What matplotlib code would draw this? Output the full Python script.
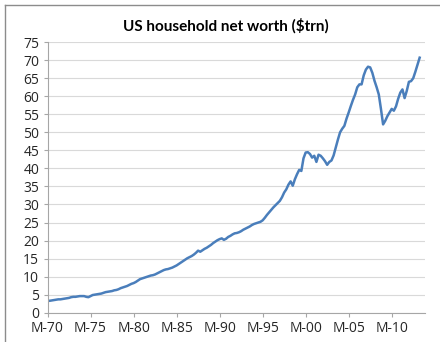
import matplotlib
matplotlib.use("Agg")
import matplotlib.pyplot as plt
from matplotlib.lines import Line2D

# quarterly US household net worth, $trn, Mar-70 .. Jun-13
net_worth = [
    3.3, 3.3, 3.4, 3.5,      # 1970
    3.6, 3.7, 3.7, 3.8,      # 1971
    3.9, 4.0, 4.1, 4.3,      # 1972
    4.4, 4.4, 4.5, 4.6,      # 1973
    4.6, 4.6, 4.4, 4.3,      # 1974
    4.6, 4.9, 5.0, 5.1,      # 1975
    5.2, 5.3, 5.5, 5.7,      # 1976
    5.8, 5.9, 6.0, 6.2,      # 1977
    6.3, 6.5, 6.8, 7.0,      # 1978
    7.2, 7.4, 7.7, 8.0,      # 1979
    8.2, 8.5, 8.9, 9.3,      # 1980
    9.5, 9.7, 9.9, 10.1,     # 1981
    10.3, 10.4, 10.6, 10.9,  # 1982
    11.2, 11.5, 11.8, 12.0,  # 1983
    12.1, 12.3, 12.5, 12.8,  # 1984
    13.1, 13.5, 13.9, 14.3,  # 1985
    14.7, 15.1, 15.4, 15.7,  # 1986
    16.1, 16.6, 17.2, 16.9,  # 1987
    17.3, 17.7, 18.0, 18.4,  # 1988
    18.8, 19.3, 19.7, 20.1,  # 1989
    20.4, 20.6, 20.2, 20.5,  # 1990
    21.0, 21.3, 21.7, 22.0,  # 1991
    22.1, 22.3, 22.6, 23.0,  # 1992
    23.3, 23.6, 23.9, 24.3,  # 1993
    24.6, 24.8, 25.0, 25.2,  # 1994
    25.6, 26.3, 27.1, 27.8,  # 1995
    28.5, 29.2, 29.8, 30.4,  # 1996
    31.0, 32.0, 33.3, 34.2,  # 1997
    35.5, 36.4, 35.2, 37.0,  # 1998
    38.4, 39.6, 39.3, 42.8,  # 1999
    44.4, 44.5, 44.0, 43.0,  # 2000
    43.5, 41.8, 43.8, 43.5,  # 2001
    42.8, 42.0, 41.0, 41.8,  # 2002
    42.2, 43.6, 45.8, 48.0,  # 2003
    50.0, 51.0, 51.8, 53.8,  # 2004
    55.5, 57.3, 59.0, 60.5,  # 2005
    62.5, 63.3, 63.3, 65.8,  # 2006
    67.4, 68.2, 68.0, 66.5,  # 2007
    64.3, 62.5, 60.5, 56.5,  # 2008
    52.2, 53.2, 54.5, 55.5,  # 2009
    56.5, 56.0, 57.2, 59.3,  # 2010
    61.0, 61.9, 59.5, 61.5,  # 2011
    64.0, 64.2, 65.0, 66.8,  # 2012
    68.7, 70.7,              # 2013
]
tick_labels = ["M-70", "M-75", "M-80", "M-85", "M-90", "M-95", "M-00", "M-05", "M-10"]
y_ticks = list(range(0, 80, 5))

fig = plt.figure(figsize=(4.4, 3.42), dpi=100)
ax = fig.add_axes([0.108, 0.0857, 0.858, 0.791])

ax.plot(range(len(net_worth)), net_worth, color="#4a7ebb", lw=1.8, solid_joinstyle="round")

ax.set_xlim(0, 175.5)
ax.set_ylim(0, 75)
ax.set_yticks(y_ticks)
ax.set_xticks([i * 20 for i in range(len(tick_labels))])
ax.set_xticklabels(tick_labels)

ax.grid(axis="y", color="#d9d9d9", lw=0.8)
ax.set_axisbelow(True)
for s in ["top", "right"]:
    ax.spines[s].set_visible(False)
for s in ["left", "bottom"]:
    ax.spines[s].set_color("#a6a6a6")
    ax.spines[s].set_linewidth(0.8)
ax.tick_params(axis="both", colors="#a6a6a6", length=3, width=0.8, labelcolor="#262626",
               labelsize=10, pad=3)
for lab in ax.get_xticklabels() + ax.get_yticklabels():
    lab.set_fontfamily("Open Sans")

fig.text(0.513, 0.924, "US household net worth ($trn)", ha="center", va="center",
         fontsize=11, fontweight="bold", family="Lato", color="#000000")

# outer frame (left and top edges only visible)
fig.add_artist(Line2D([5 / 440, 5 / 440], [0, 1 - 5 / 342], transform=fig.transFigure,
                      color="#8c8c8c", lw=1))
fig.add_artist(Line2D([5 / 440, 1], [1 - 5 / 342, 1 - 5 / 342], transform=fig.transFigure,
                      color="#8c8c8c", lw=1))

fig.savefig("out.png", dpi=100)
